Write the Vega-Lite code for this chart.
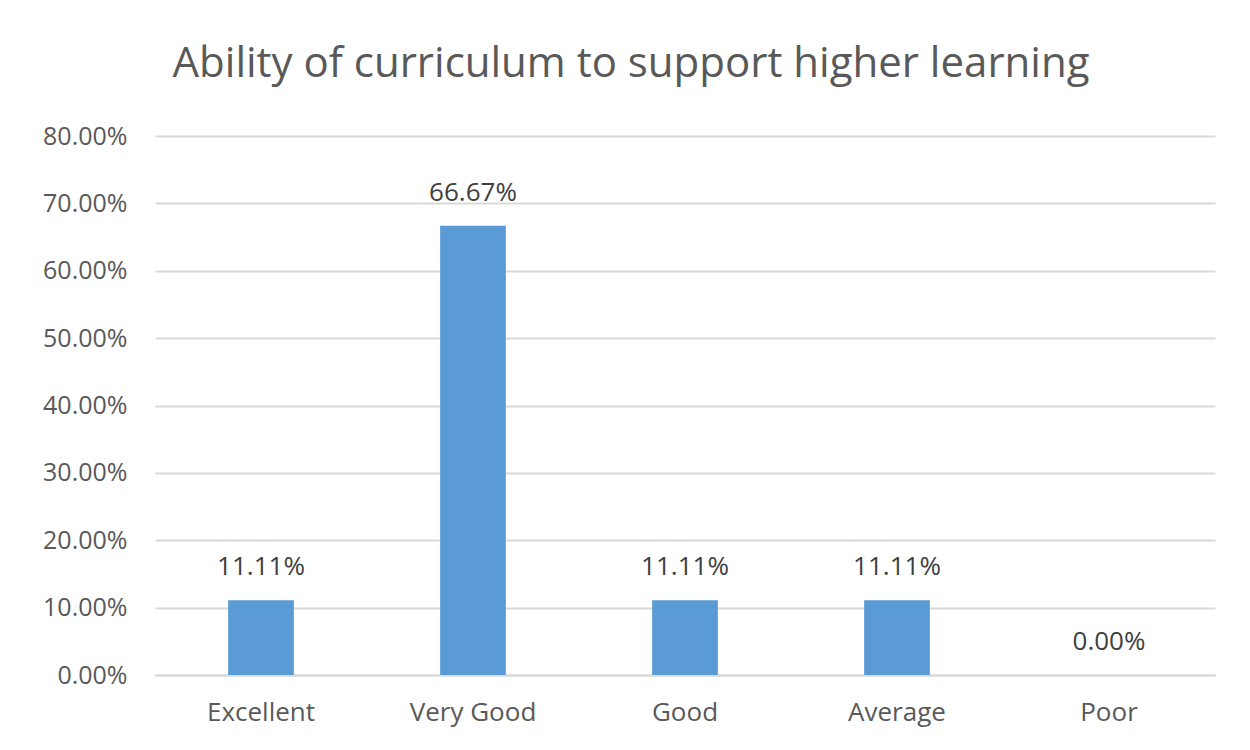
{
  "$schema": "https://vega.github.io/schema/vega-lite/v6.json",
  "autosize": "none",
  "width": 1060,
  "height": 539,
  "padding": {"left": 155, "top": 136, "right": 35, "bottom": 75},
  "background": "white",
  "title": {
    "text": "Ability of curriculum to support higher learning",
    "font": "Open Sans",
    "fontSize": 42,
    "fontWeight": "normal",
    "color": "#595959",
    "anchor": "middle",
    "dx": -54,
    "offset": 38
  },
  "data": {
    "values": [
      {"rating": "Excellent", "share": 0.1111},
      {"rating": "Very Good", "share": 0.6667},
      {"rating": "Good", "share": 0.1111},
      {"rating": "Average", "share": 0.1111},
      {"rating": "Poor", "share": 0.0}
    ]
  },
  "encoding": {
    "x": {
      "field": "rating",
      "type": "nominal",
      "sort": null,
      "scale": {"paddingInner": 0.69, "paddingOuter": 0.345},
      "axis": {
        "title": null,
        "labelAngle": 0,
        "labelFont": "Open Sans",
        "labelFontSize": 26,
        "labelColor": "#595959",
        "labelPadding": 24,
        "labelOverlap": false,
        "ticks": false,
        "domain": true,
        "domainColor": "#D9D9D9",
        "domainWidth": 2
      }
    },
    "y": {
      "field": "share",
      "type": "quantitative",
      "scale": {"domain": [0, 0.8]},
      "axis": {
        "title": null,
        "format": ".2%",
        "values": [0, 0.1, 0.2, 0.3, 0.4, 0.5, 0.6, 0.7, 0.8],
        "labelFont": "Open Sans",
        "labelFontSize": 25,
        "labelColor": "#595959",
        "labelPadding": 28,
        "labelOverlap": false,
        "ticks": false,
        "domain": false,
        "grid": true,
        "gridColor": "#D9D9D9",
        "gridWidth": 2
      }
    }
  },
  "layer": [
    {"mark": {"type": "bar", "color": "#5B9BD5"}},
    {
      "mark": {
        "type": "text",
        "baseline": "bottom",
        "dy": -20,
        "font": "Open Sans",
        "fontSize": 26,
        "color": "#404040"
      },
      "encoding": {"text": {"field": "share", "type": "quantitative", "format": ".2%"}}
    }
  ],
  "config": {"view": {"stroke": null}}
}
